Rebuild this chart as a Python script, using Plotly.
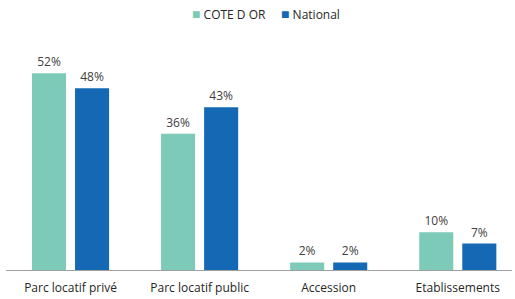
import plotly.graph_objects as go

categories = ["Parc locatif privé", "Parc locatif public", "Accession", "Etablissements"]
cote_d_or = [52, 36, 2, 10]
national = [48, 43, 2, 7]
series_names = ["COTE D OR", "National"]
colors = ["#7ECAB8", "#1468B4"]

font_family = "Open Sans, Liberation Sans, sans-serif"

fig = go.Figure()
for name, vals, col in zip(series_names, [cote_d_or, national], colors):
    fig.add_trace(go.Bar(
        x=categories, y=vals, name=name, marker_color=col,
        marker_line_width=0,
        text=[f"{v}%" for v in vals], textposition="outside",
        textfont=dict(size=12, color="#404040", family=font_family),
        cliponaxis=False, showlegend=False,
    ))

legend_text = "&nbsp;&nbsp;&nbsp;&nbsp;&nbsp;".join(
    f"<span style='color:{c};font-size:14px'>■</span> {n}" for n, c in zip(series_names, colors)
)
fig.add_annotation(
    text=legend_text, x=(266 - 6) / 506, xref="paper", xanchor="center",
    y=1 + (30 - 13) / 242, yref="paper", yanchor="middle", showarrow=False,
    font=dict(size=12, color="#262626", family=font_family),
)

fig.update_layout(
    width=515, height=299,
    margin=dict(l=6, r=3, t=30, b=27),
    barmode="group", bargap=0.333, bargroupgap=0.209,
    plot_bgcolor="white", paper_bgcolor="white",
    font=dict(family=font_family, size=12, color="#262626"),
    showlegend=False,
    xaxis=dict(range=[-0.5, 3.42], showline=True, linecolor="#A0A0A0", linewidth=1,
               ticks="", ticklabelstandoff=7,
               tickfont=dict(size=12, color="#262626"), fixedrange=True),
    yaxis=dict(range=[0, 63.4], visible=False, showgrid=False, zeroline=False,
               fixedrange=True),
)

fig.write_html("out.html", config={"displayModeBar": False},
               post_script="document.body.style.margin='0';")
